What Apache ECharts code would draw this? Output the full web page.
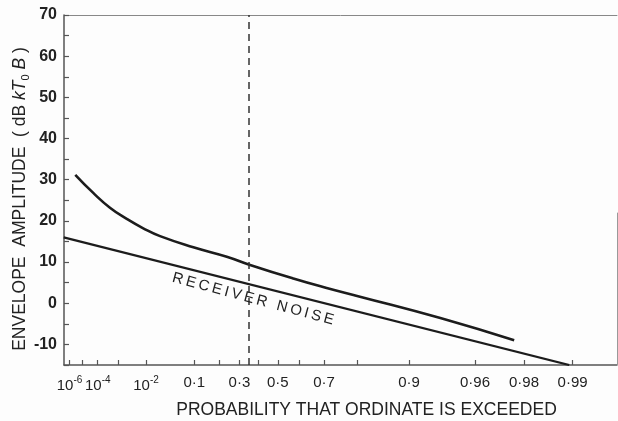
<!DOCTYPE html>
<html>
<head>
<meta charset="utf-8">
<script src="https://cdn.jsdelivr.net/npm/echarts@6/dist/echarts.min.js"></script>
<style>
  html, body { margin: 0; padding: 0; background: #fdfdfd; }
  #chart { width: 618px; height: 421px; }
</style>
</head>
<body>
<div id="chart"></div>
<script>
// Probability that the ordinate is exceeded, and envelope amplitude in dB above kT0B.
const clutterProb = [3e-6, 5.4e-5, 4.4e-4, 2.3e-3, 8.3e-3, 0.0232, 0.097, 0.236, 0.356, 0.574, 0.709, 0.808, 0.935, 0.977];
const clutterDb   = [31.2, 26.8, 23.2, 20.5, 18.2, 16.3, 13.6, 11.3, 9.3, 6.0, 3.7, 1.6, -3.6, -9.0];

const noiseProb = [3e-7, 0.9895];
const noiseDb   = [16.0, -15.0];

// Probability at which the dashed reference line is drawn
const markerProb = 0.35;

// Position of the "RECEIVER NOISE" caption
const noiseCaptionProb = 0.372;
const noiseCaptionDb = 1.0;

// Probability-axis range, ticks and labels
const axisLeftProb = 3.2e-7;
const axisRightProb = 0.9947;
const tickProbs  = [1e-6, 1e-5, 1e-4, 1e-3, 1e-2, 0.1, 0.2, 0.3, 0.4, 0.5, 0.6, 0.7, 0.8, 0.9, 0.96, 0.98, 0.99];
const labelProbs = [1e-6, 1e-4, 1e-2, 0.1, 0.3, 0.5, 0.7, 0.9, 0.96, 0.98, 0.99];
const labelTexts = ['10{sup|-6}', '10{sup|-4}', '10{sup|-2}', '0·1', '0·3', '0·5', '0·7', '0·9', '0·96', '0·98', '0·99'];

// Amplitude-axis range
const yMin = -15, yMax = 70, yStep = 5;

// Rayleigh probability paper: position is log10(-ln P), so a Rayleigh envelope plots as a straight line
const rayleigh = p => Math.log10(-Math.log(p));

const uLeft = rayleigh(axisLeftProb);
const uRight = rayleigh(axisRightProb);
const toPairs = (ps, vs) => ps.map((p, i) => [rayleigh(p), vs[i]]);

const labelU = labelProbs.map(rayleigh);
function labelFor(u) {
  let best = 0;
  labelU.forEach((v, i) => { if (Math.abs(v - u) < Math.abs(labelU[best] - u)) best = i; });
  return labelTexts[best];
}

const ink = '#1c1c1c';
const frame = '#555';
const font = 'Liberation Sans, Arial, sans-serif';

const chart = echarts.init(document.getElementById('chart'), null, { renderer: 'canvas' });
chart.setOption({
  backgroundColor: '#fdfdfd',
  animation: false,
  grid: { left: 64, right: 1, top: 15, bottom: 56, outerBoundsMode: 'none', containLabel: false },
  xAxis: [{
    type: 'value',
    inverse: true,
    min: uRight,
    max: uLeft,
    splitLine: { show: false },
    axisLine: { show: true, onZero: false, lineStyle: { color: frame, width: 1.5 } },
    axisTick: { show: true, inside: true, length: 5, lineStyle: { color: frame, width: 1.2 }, customValues: tickProbs.map(rayleigh) },
    axisLabel: {
      customValues: labelU,
      formatter: v => labelFor(v),
      color: '#222', fontFamily: font, fontSize: 15, margin: 10,
      rich: { sup: { fontSize: 10, fontFamily: font, color: '#222', verticalAlign: 'bottom', padding: [0, 0, 12, 0] } }
    },
    name: 'PROBABILITY THAT ORDINATE IS EXCEEDED',
    nameLocation: 'middle',
    nameGap: 36,
    nameTextStyle: { color: '#222', fontFamily: font, fontSize: 17.5, padding: [0, 0, 0, 52] }
  }, {
    type: 'value',
    position: 'top',
    inverse: true,
    min: uRight,
    max: uLeft,
    splitLine: { show: false },
    axisLine: { show: true, onZero: false, lineStyle: { color: '#888', width: 1 } },
    axisTick: { show: false },
    axisLabel: { show: false }
  }],
  yAxis: {
    type: 'value',
    min: yMin,
    max: yMax,
    interval: yStep,
    splitLine: { show: false },
    axisLine: { show: true, onZero: false, lineStyle: { color: frame, width: 1.5 } },
    axisTick: { show: true, inside: true, length: 5, lineStyle: { color: frame, width: 1.2 } },
    axisLabel: {
      formatter: v => (v % 10 === 0 ? String(v) : ''),
      color: '#222', fontFamily: font, fontSize: 16, fontWeight: 'bold', margin: 7
    },
    name: 'ENVELOPE  AMPLITUDE  ( dB {i|k}{i|T}{sub|0}{i| B} )',
    nameLocation: 'middle',
    nameMoveOverlap: false,
    nameGap: 33,
    nameTextStyle: {
      color: '#222', fontFamily: font, fontSize: 17.5, padding: [0, 18, 0, 0],
      rich: {
        i: { fontStyle: 'italic', fontFamily: font, fontSize: 17.5, color: '#222' },
        sub: { fontFamily: font, fontSize: 11, color: '#222', verticalAlign: 'top', padding: [10, 0, 0, 0] }
      }
    }
  },
  series: [{
    name: 'clutter',
    type: 'line',
    data: toPairs(clutterProb, clutterDb),
    smooth: 0.5,
    showSymbol: false,
    lineStyle: { color: ink, width: 2.6 },
    markLine: {
      silent: true,
      symbol: 'none',
      label: { show: false },
      lineStyle: { color: '#333', width: 1.5, type: [7, 5] },
      data: [{ xAxis: rayleigh(markerProb) }]
    }
  }, {
    name: 'noise',
    type: 'line',
    data: toPairs(noiseProb, noiseDb),
    showSymbol: false,
    lineStyle: { color: ink, width: 2.2 },
    markLine: {
      silent: true,
      symbol: 'none',
      label: { show: false },
      data: [[
        { coord: [uRight, 22], lineStyle: { color: '#999', width: 1, type: 'solid' } },
        { coord: [uRight, yMin] }
      ]]
    },
    markPoint: {
      silent: true,
      symbolSize: 0,
      data: [{ coord: [rayleigh(noiseCaptionProb), noiseCaptionDb] }],
      label: {
        show: true,
        position: 'inside',
        rotate: -15,
        formatter: 'RECEIVER NOISE'.split('').join('\u2009'),
        color: '#222', fontFamily: font, fontSize: 15
      }
    }
  }]
});
</script>
</body>
</html>
